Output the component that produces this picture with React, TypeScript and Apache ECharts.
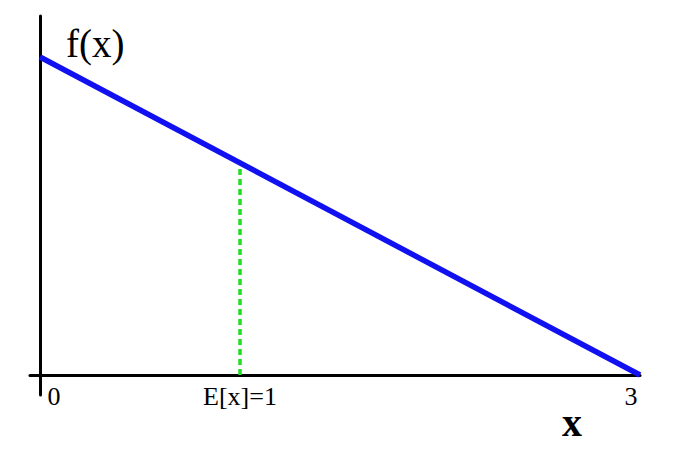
import React, { useEffect, useRef } from "react";
import * as echarts from "echarts";

// density f(x) of the triangular distribution on [0, 3]
const lineX = [0, 3];
const lineY = [2 / 3, 0];
// expectation marker
const meanX = 1;
const meanY = 4 / 9;
// x tick positions and labels
const tickValues = [0, 1, 3];
const tickLabels = ["0", "E[x]=1", "3"];
const yAxisName = "f(x)";
const xAxisName = "x";

const FONT = "'Liberation Serif', 'DejaVu Serif', serif";

export default function App() {
  const ref = useRef<HTMLDivElement>(null);
  useEffect(() => {
    if (!ref.current) return;
    const chart = echarts.init(ref.current, null, { renderer: "svg" });
    const labelStyle = (v: number) => {
      const i = tickValues.indexOf(v);
      if (i < 0) return "";
      if (i === 0) return "{l|" + tickLabels[i] + "}";
      if (i === tickValues.length - 1) return "{r|" + tickLabels[i] + "}";
      return "{c|" + tickLabels[i] + "}";
    };
    const base = { fontFamily: FONT, fontSize: 26, lineHeight: 24, color: "#000" };
    chart.setOption({
      animation: false,
      backgroundColor: "#ffffff",
      grid: { left: 30, right: 40, top: 16, bottom: 55, outerBoundsMode: "none", containLabel: false },
      xAxis: {
        type: "value",
        min: -0.05,
        max: 3,
        axisLine: { show: true, onZero: true, lineStyle: { color: "#000", width: 3 } },
        axisTick: { show: false },
        splitLine: { show: false },
        axisLabel: {
          show: true,
          customValues: tickValues,
          formatter: labelStyle,
          margin: -11,
          color: "#000",
          fontFamily: FONT,
          fontSize: 26,
          lineHeight: 24,
          rich: {
            l: { ...base, padding: [0, 0, 0, 28] },
            c: { ...base },
            r: { ...base, padding: [0, 18, 0, 0] },
          },
        },
      },
      yAxis: {
        type: "value",
        min: -20 / 477,
        max: 359 / 477,
        axisLine: { show: true, onZero: true, lineStyle: { color: "#000", width: 3 } },
        axisTick: { show: false },
        splitLine: { show: false },
        axisLabel: { show: false },
      },
      series: [
        {
          type: "line",
          data: [
            [meanX, 0],
            [meanX, meanY],
          ],
          symbol: "none",
          lineStyle: { color: "#22dd22", width: 3.5, type: [6, 4], cap: "butt" },
          z: 2,
        },
        {
          type: "line",
          data: lineX.map((x, i) => [x, lineY[i]]),
          symbol: "none",
          lineStyle: { color: "#1010f0", width: 5.5, cap: "butt" },
          z: 3,
        },
      ],
      graphic: [
        {
          type: "text",
          left: 66,
          top: 24,
          style: { text: yAxisName, fontFamily: FONT, fontSize: 39, fill: "#000" },
        },
        {
          type: "text",
          x: 572,
          y: 422,
          style: {
            text: xAxisName,
            fontFamily: FONT,
            fontSize: 40,
            fontWeight: "bold",
            fill: "#000",
            align: "center",
            verticalAlign: "middle",
          },
        },
      ],
    });
    return () => chart.dispose();
  }, []);
  return (
    <div
      ref={ref}
      style={{ position: "fixed", left: 0, top: 0, width: 680, height: 450 }}
    />
  );
}
